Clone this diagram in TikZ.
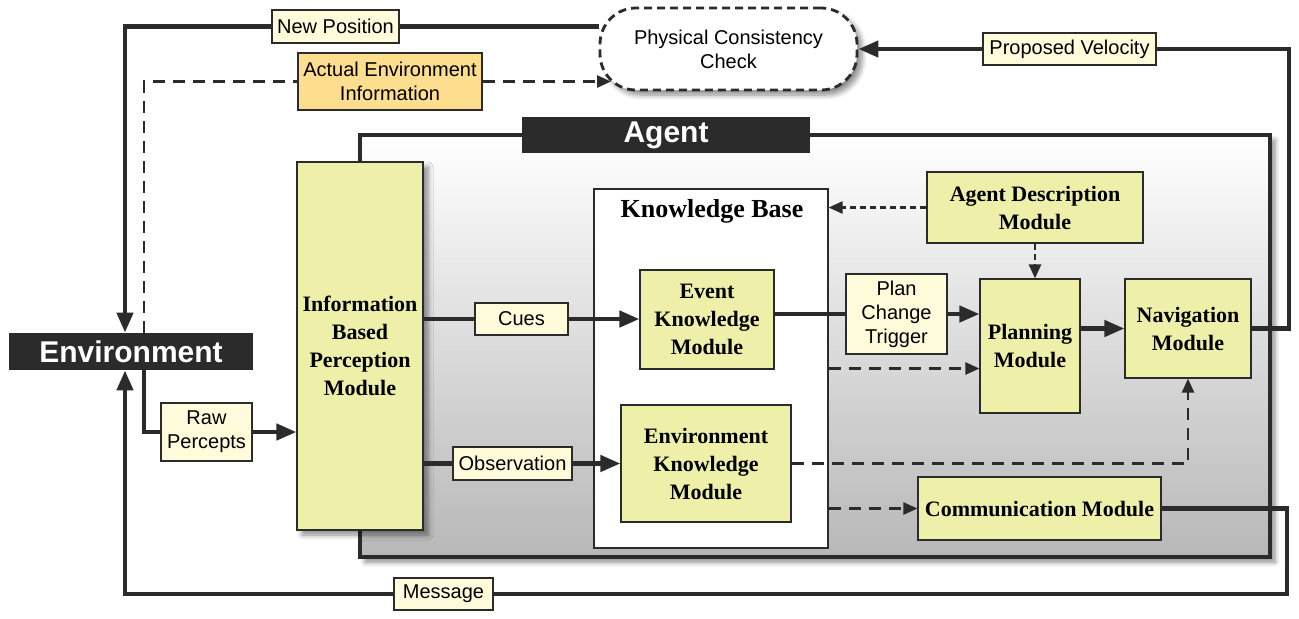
\documentclass[tikz,border=0pt]{standalone}
\usepackage{fontspec}
\setmainfont{Liberation Serif}
\setsansfont{Liberation Sans}
\usetikzlibrary{arrows.meta,shadows,shadows.blur}
\definecolor{ink}{HTML}{2B2B2B}
\definecolor{modfill}{HTML}{EEF0AA}
\definecolor{lblfill}{HTML}{FFFBDB}
\definecolor{orfill}{HTML}{FDDE8E}
\begin{document}
\begin{tikzpicture}[x=0.5pt,y=-0.5pt,
 module/.style={draw=ink, line width=0.6pt, fill=modfill, align=center, inner sep=2pt, font=\bfseries\fontsize{11}{14}\selectfont},
 lbl/.style={draw=ink, line width=0.6pt, fill=lblfill, align=center, inner sep=2pt, font=\sffamily\fontsize{10}{12}\selectfont},
 main/.style={draw=ink, line width=2.2pt},
 marr/.style={-{Triangle[length=10pt,width=8pt]}},
 dsh/.style={draw=ink, line width=1.3pt, dash pattern=on 6pt off 4pt},
 dotl/.style={draw=ink, line width=1.3pt, dash pattern=on 3pt off 2pt},
 darr/.style={-{Triangle[length=7pt,width=6pt]}},
 blackbox/.style={fill=ink, text=white, font=\sffamily\bfseries\fontsize{15}{18}\selectfont, inner sep=0pt},
 shad/.style={blur shadow={shadow blur steps=6, shadow blur radius=2.5pt, shadow xshift=2.5pt, shadow yshift=-2.5pt, shadow opacity=45}}
]
\useasboundingbox (0,0) rectangle (1299,618);

% agent container
\node[draw=ink, line width=1.8pt, top color=white, bottom color=black!28, minimum width=455pt, minimum height=211pt, shad] (agent) at (815,346) {};
\node[blackbox, minimum width=144pt, minimum height=18pt] (agentlbl) at (666,135) {Agent};
\node[blackbox, minimum width=122pt, minimum height=18.5pt] (env) at (131,351.5) {Environment};

% knowledge base
\node[draw=ink, line width=0.6pt, fill=white, minimum width=117pt, minimum height=179.5pt] (kb) at (711,368.5) {};
\node[font=\bfseries\fontsize{13}{15}\selectfont] (kbtitle) at (712,211) {Knowledge Base};

% modules
\node[module, minimum width=63pt, minimum height=184pt, shad] (perc) at (360,346) {Information\\Based\\Perception\\Module};
\node[module, minimum width=67pt, minimum height=49.5pt] (ekm) at (707,319.5) {Event\\Knowledge\\Module};
\node[module, minimum width=85pt, minimum height=58.5pt] (envkm) at (706,463.5) {Environment\\Knowledge\\Module};
\node[module, minimum width=108pt, minimum height=35.5pt] (adm) at (1035,207.5) {Agent Description\\Module};
\node[module, minimum width=50pt, minimum height=67pt] (plan) at (1030,346) {Planning\\Module};
\node[module, minimum width=63pt, minimum height=49.5pt] (nav) at (1188,328.5) {Navigation\\Module};
\node[module, minimum width=121.5pt, minimum height=31.5pt] (comm) at (1039.5,508.5) {Communication Module};

% physical consistency check
\node[draw=ink, line width=1.4pt, dash pattern=on 4pt off 2.5pt, fill=white, rounded corners=18pt, minimum width=128.5pt, minimum height=41pt, align=center, font=\sffamily\fontsize{10}{12}\selectfont, shad] (phys) at (728.5,49) {Physical Consistency\\Check};

% labels
\node[lbl, minimum width=63.5pt, minimum height=16.5pt] (newpos) at (335.5,26.5) {New Position};
\node[lbl, fill=orfill, minimum width=92pt, minimum height=28.5pt] (actenv) at (390,81.5) {Actual Environment\\Information};
\node[lbl, minimum width=86.5pt, minimum height=16pt] (propvel) at (1069.5,49) {Proposed Velocity};
\node[lbl, minimum width=45.5pt, minimum height=29pt] (rawp) at (206.5,432) {Raw\\Percepts};
\node[lbl, minimum width=49.5pt, minimum height=16pt] (message) at (443.5,594) {Message};
\node[lbl, minimum width=46.5pt, minimum height=16pt] (cues) at (521.5,319) {Cues};
\node[lbl, minimum width=59.5pt, minimum height=16.5pt] (obs) at (512.5,463.5) {Observation};
\node[lbl, minimum width=50.5pt, minimum height=40pt] (pct) at (896.5,314) {Plan\\Change\\Trigger};

% helper coordinates
\coordinate (ex1) at (125,351.5);
\coordinate (ex2) at (144,351.5);
\coordinate (rr) at (1289,49);
\coordinate (rr2) at (1287,594);
\coordinate (physL) at (611,49);

% connectors
\draw[main] (phys.west |- newpos.east) -- (newpos.east);
\draw[main,marr] (newpos.west) -| (ex1 |- env.north);
\draw[dsh] (ex2 |- env.north) |- (actenv.west);
\draw[dsh,darr] (actenv.east) -- (physL |- actenv.east);
\draw[main,marr] (propvel.west) -- (phys.east |- propvel.west);
\draw[main] (nav.east) -| (rr) -- (propvel.east);
\draw[main] (ex2 |- env.south) |- (rawp.west);
\draw[main,marr] (rawp.east) -- (perc.west |- rawp.east);
\draw[main] (comm.east) -| (rr2) -- (message.east);
\draw[main,marr] (message.west) -| (ex1 |- env.south);
\draw[main] (perc.east |- cues.west) -- (cues.west);
\draw[main,marr] (cues.east) -- (ekm.west |- cues.east);
\draw[main] (perc.east |- obs.west) -- (obs.west);
\draw[main,marr] (obs.east) -- (envkm.west |- obs.east);
\draw[main] (ekm.east |- pct.west) -- (pct.west);
\draw[main,marr] (pct.east) -- (plan.west |- pct.east);
\draw[main,marr] (plan.east |- nav.west) -- (nav.west);
\draw[dotl,darr] (adm.west) -- (kb.east |- adm.west);
\draw[dotl,darr] (adm.south) -- (adm.south |- plan.north);
\draw[dsh,darr] (kb.east) -- (plan.west |- kb.east);
\draw[dsh,darr] (envkm.east) -| (nav.south);
\draw[dsh,darr] (kb.east |- comm.west) -- (comm.west);
\end{tikzpicture}
\end{document}
